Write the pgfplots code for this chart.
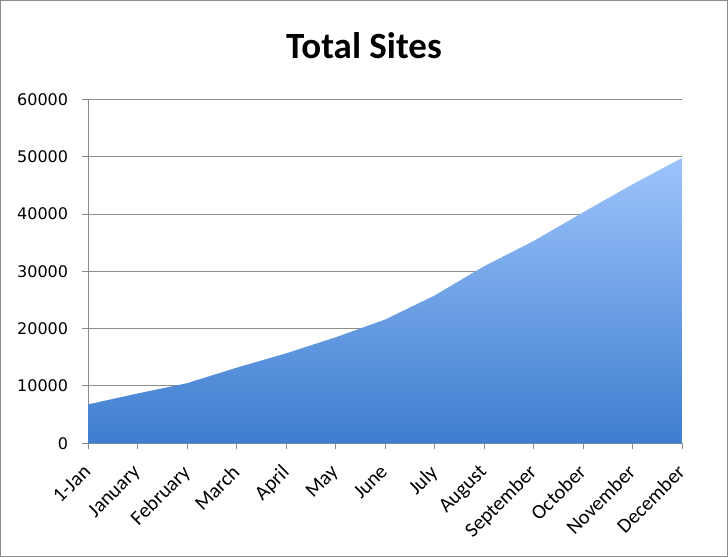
\documentclass[border=0pt]{standalone}
\usepackage{fontspec}
\setmainfont{Carlito}
\newfontfamily\dejavu{DejaVu Sans}
\usepackage{pgfplots}
\pgfplotsset{compat=1.18}

\definecolor{gridgray}{HTML}{8C8C8C}
\definecolor{areatop}{HTML}{9EC4FC}
\definecolor{areabot}{HTML}{3D7DCE}

\begin{document}
\begin{tikzpicture}
\useasboundingbox (0,0) rectangle (728pt,557pt);
\draw[gridgray, line width=1pt] (0.5pt,0.5pt) rectangle (727.5pt,556.5pt);
\node[font=\fontsize{37}{37}\selectfont\bfseries] at (364pt,511pt) {Total Sites};
\begin{axis}[
    at={(88.3pt,113.7pt)}, anchor=south west,
    width=593.7pt, height=343.8pt, scale only axis,
    xmin=0, xmax=12, ymin=0, ymax=60000,
    xtick={0,1,...,12},
    xticklabels={1-Jan,January,February,March,April,May,June,July,August,September,October,November,December},
    ytick={0,10000,20000,30000,40000,50000,60000},
    yticklabels={0,10000,20000,30000,40000,50000,60000},
    scaled y ticks=false,
    axis lines*=left,
    axis line style={gridgray, line width=1pt},
    tick style={gridgray, line width=1pt},
    tick align=outside, major tick length=6pt,
    ymajorgrids, grid style={gridgray, line width=1pt},
    yticklabel style={font=\dejavu\fontsize{16}{16}\selectfont, inner sep=0pt, xshift=-14pt},
    xticklabel style={font=\fontsize{20.5}{20.5}\selectfont, xshift=-6pt, yshift=-14pt, rotate=45, anchor=north east, inner sep=0pt},
]
\addplot[draw=none, top color=areatop, bottom color=areabot] coordinates {
    (0,6800) (1,8700) (2,10500) (3,13200) (4,15700) (5,18500) (6,21600)
    (7,25800) (8,30900) (9,35300) (10,40300) (11,45200) (12,49800)
} \closedcycle;
\end{axis}
\end{tikzpicture}
\end{document}
